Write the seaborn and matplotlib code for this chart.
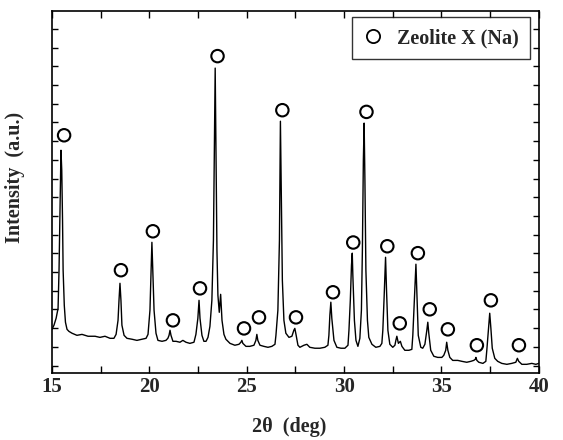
import matplotlib
matplotlib.use("Agg")
import matplotlib.pyplot as plt
from matplotlib.lines import Line2D
from matplotlib.ticker import MultipleLocator, NullFormatter
import seaborn as sns
import pandas as pd

# XRD trace: 2theta (deg) and intensity (a.u., 1 unit = 1 y tick)
two_theta = [
    15.00, 15.10, 15.21, 15.31, 15.36, 15.40, 15.44, 15.46, 15.50, 15.54, 15.57, 15.63, 15.69, 15.77, 15.87,
    16.03, 16.28, 16.54, 16.85, 17.21, 17.46, 17.72, 17.98, 18.18,
    18.29, 18.39, 18.44, 18.49, 18.54, 18.59, 18.70, 18.85,
    19.11, 19.36, 19.62, 19.83,
    19.93, 20.03, 20.08, 20.13, 20.18, 20.24, 20.34, 20.44,
    20.65, 20.85, 20.95,
    21.01, 21.06, 21.11, 21.21,
    21.37, 21.57, 21.72, 21.88, 22.08, 22.29,
    22.39, 22.49, 22.55, 22.60, 22.70, 22.80, 22.91, 23.01,
    23.11, 23.21, 23.29, 23.34, 23.38, 23.42, 23.47, 23.52, 23.59, 23.66, 23.73, 23.83, 23.93,
    24.14, 24.39, 24.60,
    24.70, 24.75, 24.80, 24.96, 25.16, 25.37,
    25.47, 25.52, 25.57, 25.68, 25.88, 26.09, 26.29, 26.45,
    26.50, 26.60, 26.68, 26.73, 26.78, 26.83, 26.91, 27.01, 27.17,
    27.32, 27.42, 27.47, 27.53, 27.63, 27.73,
    27.94, 28.09, 28.24, 28.50, 28.76, 29.01, 29.17,
    29.22, 29.27, 29.32, 29.37, 29.48, 29.63, 29.84, 30.04, 30.20,
    30.25, 30.32, 30.38, 30.42, 30.45, 30.53, 30.61, 30.71,
    30.81, 30.89, 30.94, 30.99, 31.03, 31.07, 31.12, 31.20, 31.27, 31.43, 31.63, 31.84, 31.94,
    31.99, 32.06, 32.13, 32.18, 32.25, 32.35, 32.50,
    32.61, 32.66, 32.71, 32.79, 32.89, 32.97, 33.12, 33.33, 33.48,
    33.53, 33.61, 33.69, 33.74, 33.81, 33.94, 34.04,
    34.15, 34.25, 34.30, 34.35, 34.45, 34.61, 34.81, 35.02, 35.12,
    35.22, 35.27, 35.33, 35.43, 35.58, 35.84, 36.05, 36.30, 36.51, 36.66,
    36.74, 36.77, 36.82, 36.92, 37.13, 37.28,
    37.33, 37.41, 37.48, 37.54, 37.61, 37.74, 37.89, 38.10, 38.36, 38.61, 38.82,
    38.90, 38.97, 39.13, 39.38, 39.64, 39.85, 40.00,
]
intensity = [
    1.94, 2.16, 2.53, 3.06, 5.10, 7.77, 10.44, 11.51, 10.44, 7.77, 5.10, 3.22, 2.32, 1.94, 1.83,
    1.73, 1.62, 1.67, 1.57, 1.57, 1.51, 1.57, 1.46, 1.46,
    1.67, 2.42, 3.49, 4.40, 3.49, 2.16, 1.62, 1.46,
    1.41, 1.35, 1.41, 1.46,
    1.67, 2.96, 4.83, 6.59, 4.99, 2.96, 1.73, 1.35,
    1.30, 1.35, 1.46,
    1.62, 1.89, 1.62, 1.30,
    1.30, 1.25, 1.35, 1.25, 1.19, 1.25,
    1.67, 2.53, 3.49, 2.53, 1.62, 1.30, 1.30, 1.51,
    2.10, 3.49, 6.70, 11.51, 15.90, 11.51, 6.16, 3.76, 2.85, 3.81, 2.42, 1.67, 1.41,
    1.19, 1.09, 1.14,
    1.25, 1.35, 1.19, 1.03, 1.03, 1.09,
    1.35, 1.67, 1.35, 1.09, 1.03, 0.98, 1.03, 1.14,
    1.62, 2.96, 6.70, 13.06, 8.73, 4.56, 2.42, 1.73, 1.51,
    1.57, 1.89, 1.99, 1.67, 1.09, 0.98,
    1.09, 1.14, 0.98, 0.93, 0.93, 0.98, 1.09,
    1.62, 2.69, 3.39, 2.53, 1.35, 0.98, 0.93, 0.93, 1.09,
    1.89, 3.49, 5.36, 6.01, 4.83, 2.42, 1.35, 1.03,
    1.46, 2.96, 6.16, 10.98, 12.96, 9.91, 5.10, 2.42, 1.51, 1.14, 0.98, 1.03, 1.19,
    1.89, 3.76, 5.79, 4.03, 1.89, 1.14, 0.98,
    1.09, 1.35, 1.57, 1.19, 1.30, 1.03, 0.82, 0.82, 0.87,
    1.62, 3.49, 5.42, 3.76, 1.62, 0.98, 0.93,
    1.14, 1.89, 2.32, 1.73, 0.82, 0.50, 0.44, 0.44, 0.55,
    0.82, 1.25, 0.82, 0.44, 0.28, 0.28, 0.23, 0.18, 0.23, 0.28,
    0.34, 0.44, 0.28, 0.18, 0.12, 0.23,
    0.82, 1.89, 2.80, 1.99, 0.93, 0.39, 0.23, 0.12, 0.07, 0.12, 0.18,
    0.39, 0.23, 0.07, 0.07, 0.12, 0.07, 0.12,
]

# Zeolite X (Na) marker positions
marker_theta = [15.62, 18.54, 20.18, 21.21, 22.60, 23.50, 24.86, 25.63, 26.83, 27.53, 29.43,
                30.47, 31.15, 32.22, 32.86, 33.79, 34.40, 35.33, 36.82, 37.54, 38.98]
marker_int = [12.31, 5.10, 7.18, 2.42, 4.13, 16.54, 1.99, 2.58, 13.65, 2.58, 3.92,
              6.58, 13.56, 6.38, 2.26, 6.01, 3.01, 1.94, 1.09, 3.49, 1.09]

x_ticks = [15, 20, 25, 30, 35, 40]
legend_label = "Zeolite X (Na)"

sns.set_style("ticks")
plt.rcParams["font.family"] = ["Liberation Serif", "DejaVu Serif"]
plt.rcParams["font.weight"] = "bold"

fig = plt.figure(figsize=(5.63, 4.40), dpi=100)
ax = fig.add_axes([0.0924, 0.152, 0.8646, 0.8238])

trace = pd.DataFrame({"2theta": two_theta, "I": intensity})
marks = pd.DataFrame({"2theta": marker_theta, "I": marker_int})

sns.lineplot(data=trace, x="2theta", y="I", color="black", linewidth=1.0, ax=ax,
             sort=False, estimator=None)
sns.scatterplot(data=marks, x="2theta", y="I", marker="o", s=80, facecolor="none",
                edgecolor="black", linewidth=1.5, ax=ax, zorder=3)

ax.set_xlim(15, 40)
ax.set_ylim(-0.4, 18.97)
ax.set_xticks(x_ticks)
ax.xaxis.set_minor_locator(MultipleLocator(2.5))
ax.yaxis.set_major_locator(MultipleLocator(1))
ax.yaxis.set_major_formatter(NullFormatter())
ax.tick_params(axis="both", which="both", direction="in", top=True, right=True,
               width=1.0, color="black")
ax.tick_params(axis="x", which="both", length=5)
ax.tick_params(axis="y", which="both", length=4)
ax.tick_params(axis="x", labelsize=15, pad=3)
for lab in ax.get_xticklabels():
    lab.set_fontweight("bold")
for sp in ax.spines.values():
    sp.set_linewidth(1.2)
    sp.set_color("black")

ax.set_xlabel("2θ  (deg)", fontsize=14.5, fontweight="bold")
ax.xaxis.set_label_coords(0.488, -0.122)
ax.set_ylabel("Intensity  (a.u.)", fontsize=14.5, fontweight="bold")
ax.yaxis.set_label_coords(-0.055, 0.54)

handle = Line2D([], [], linestyle="none", marker="o", markersize=9.5, markerfacecolor="none",
                markeredgecolor="black", markeredgewidth=1.3)
leg = ax.legend([handle], [legend_label], loc="upper right", fancybox=False, frameon=True,
                edgecolor="black", handlelength=1.0, handletextpad=0.7,
                borderpad=0.55, borderaxespad=0.0, bbox_to_anchor=(0.9815, 0.9826),
                prop={"weight": "bold", "size": 14.5, "family": ["Liberation Serif"]})
leg.get_frame().set_linewidth(1.0)

fig.savefig("out.png", dpi=100)
